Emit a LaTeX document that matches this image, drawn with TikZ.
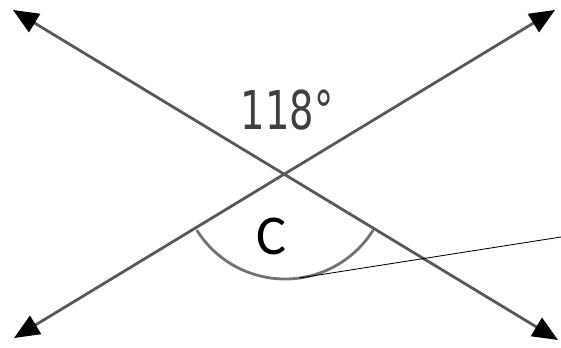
\documentclass[tikz,border=0pt]{standalone}
\usepackage{fontspec}
\setsansfont{Carlito}
\newfontfamily\labelfont{DejaVu Sans}
\usetikzlibrary{arrows.meta,positioning}

\begin{document}
\begin{tikzpicture}[x=0.025cm,y=-0.025cm,
  lineab/.style={line width=2pt,draw=black!65,{Triangle[length=18pt,width=15pt,color=black]}-{Triangle[length=18pt,width=15pt,color=black]}}]
\useasboundingbox (0,0) rectangle (561,348);
\coordinate (tl) at (13,10);
\coordinate (br) at (558,340);
\coordinate (bl) at (14,338);
\coordinate (tr) at (555,10);
\coordinate (o) at (285,175);
\draw[lineab] (tl)--(br);
\draw[lineab] (bl)--(tr);
\draw[line width=2pt,black!55] ([shift={(148:104)}]o) arc (148:32:104);
\coordinate (a) at ([shift={(82:104)}]o);
\coordinate (e) at (561,237);
\draw[line width=.6pt] (a)--(e);
\node[font=\labelfont\fontsize{38}{38}\selectfont,text=black!75,xscale=.72] (ang) at (287,110) {118\textdegree};
\node[font=\sffamily\fontsize{40}{40}\selectfont] (c) at (271,236) {C};
\end{tikzpicture}
\end{document}
